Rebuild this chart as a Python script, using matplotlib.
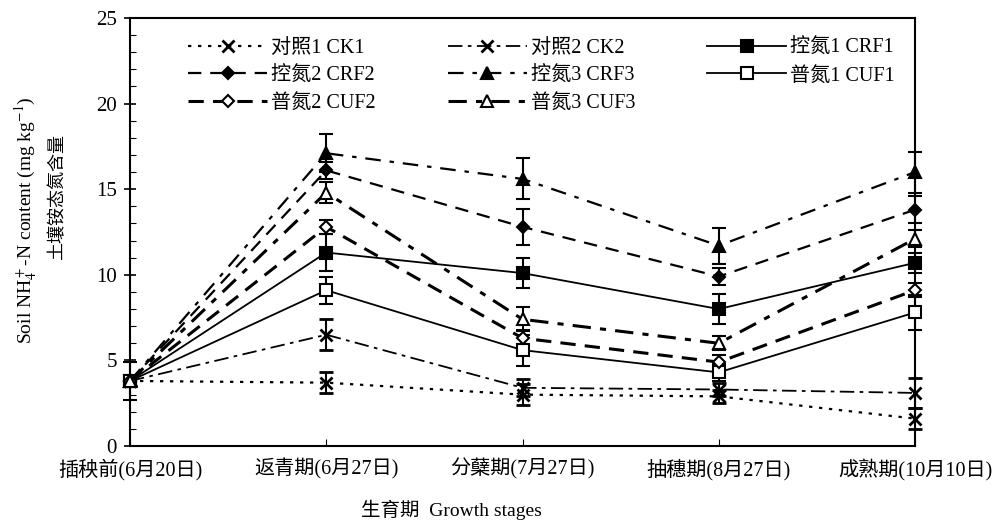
import numpy as np
import matplotlib
matplotlib.use('Agg')
import matplotlib.pyplot as plt
from matplotlib.ticker import MultipleLocator

plt.rcParams['font.family'] = ['Liberation Serif', 'Noto Sans CJK SC']
plt.rcParams['mathtext.fontset'] = 'stix'

# growth stages
stages = ['插秧前(6月20日)', '返青期(6月27日)', '分蘖期(7月27日)', '抽穗期(8月27日)', '成熟期(10月10日)']

# soil NH4+-N content (mg/kg)
ck1 = [3.8, 3.7, 3.0, 2.9, 1.6]
ck2 = [3.8, 6.5, 3.4, 3.3, 3.1]
crf1 = [3.8, 11.3, 10.1, 8.0, 10.7]
crf2 = [3.8, 16.1, 12.8, 9.9, 13.8]
crf3 = [3.8, 17.1, 15.6, 11.7, 16.0]
cuf1 = [3.8, 9.1, 5.6, 4.3, 7.8]
cuf2 = [3.8, 12.8, 6.3, 4.9, 9.1]
cuf3 = [3.8, 14.8, 7.4, 6.0, 12.1]

# error bars
ck1_err = [0.3, 0.6, 0.6, 0.4, 0.6]
ck2_err = [0.3, 0.9, 0.5, 0.4, 0.9]
crf1_err = [1.1, 1.1, 0.9, 0.85, 0.6]
crf2_err = [0.3, 0.5, 1.05, 0.5, 0.8]
crf3_err = [0.3, 1.1, 1.2, 1.05, 1.2]
cuf1_err = [0.3, 0.8, 0.9, 0.5, 1.0]
cuf2_err = [0.3, 0.4, 0.5, 0.4, 0.4]
cuf3_err = [0.3, 0.6, 0.7, 0.4, 0.5]

labels = ['对照1 CK1', '对照2 CK2', '控氮1 CRF1', '控氮2 CRF2', '控氮3 CRF3',
          '普氮1 CUF1', '普氮2 CUF2', '普氮3 CUF3']

fig = plt.figure(figsize=(10.06, 5.29), dpi=100)
ax = fig.add_axes([130/1006, 1-446/529, 785/1006, 428/529])

x = np.arange(len(stages))

# (values, err, linestyle, marker, markerfill, linewidth)
series = [
    (ck1, ck1_err, (0, (1.5, 3)), 'x', 'k', 1.6),
    (ck2, ck2_err, (0, (8, 3, 2, 3)), 'x', 'k', 1.3),
    (crf1, crf1_err, '-', 's', 'k', 1.3),
    (crf2, crf2_err, (0, (6, 4)), 'D', 'k', 1.6),
    (crf3, crf3_err, (0, (7, 4, 2, 4)), '^', 'k', 1.6),
    (cuf1, cuf1_err, '-', 's', 'white', 1.3),
    (cuf2, cuf2_err, (0, (5, 3)), 'D', 'white', 2.2),
    (cuf3, cuf3_err, (0, (6, 3, 2, 3)), '^', 'white', 2.2),
]

handles = []
for (vals, err, ls, mk, mfc, lw), lab in zip(series, labels):
    ms = 8 if mk != 'D' else 6.5
    mew = 2.0 if mk == 'x' else 1.5
    eb = ax.errorbar(x, vals, yerr=err, color='k', linestyle=ls, linewidth=lw,
                     marker=mk, markersize=ms, markerfacecolor=mfc,
                     markeredgecolor='k', markeredgewidth=mew,
                     ecolor='k', elinewidth=1.5, capsize=5, capthick=1.5,
                     label=lab, clip_on=False, zorder=3)
    for art in eb.lines[1] + eb.lines[2]:
        art.set_clip_on(False)
    handles.append(eb.lines[0])

ax.set_xlim(0, 4)
ax.set_ylim(0, 25)
ax.set_xticks(x)
ax.set_xticklabels(stages, fontsize=14.5)
ax.yaxis.set_major_locator(MultipleLocator(5))
ax.yaxis.set_minor_locator(MultipleLocator(1))
ax.tick_params(axis='y', which='major', direction='inout', length=9, width=1.2,
               labelsize=15, pad=5)
ax.tick_params(axis='y', which='minor', direction='in', length=4, width=0.8)
ax.tick_params(axis='x', which='major', direction='in', length=5, width=0.8, pad=9)
for sp in ax.spines.values():
    sp.set_linewidth(1.5)

# legend: row-major order as in the original
order = [0, 3, 6, 1, 4, 7, 2, 5]
ax.legend([handles[i] for i in order], [labels[i] for i in order],
          ncol=3, loc='upper left', bbox_to_anchor=(0.064, 0.97),
          frameon=False, fontsize=14.5, handlelength=3.9, handletextpad=0.2,
          columnspacing=3.6, labelspacing=0.42, borderaxespad=0)

fig.text(26/1006, 1-220/529, 'Soil NH$_4^+$-N content (mg kg$^{-1}$)',
         rotation=90, ha='center', va='center', fontsize=14)
fig.text(58/1006, 1-197/529, '土壤铵态氮含量', rotation=90,
         ha='center', va='center', fontsize=13)
fig.text(451/1006, 1-510/529, '生育期  Growth stages', ha='center', va='center',
         fontsize=14)

fig.savefig('out.png', dpi=100)
